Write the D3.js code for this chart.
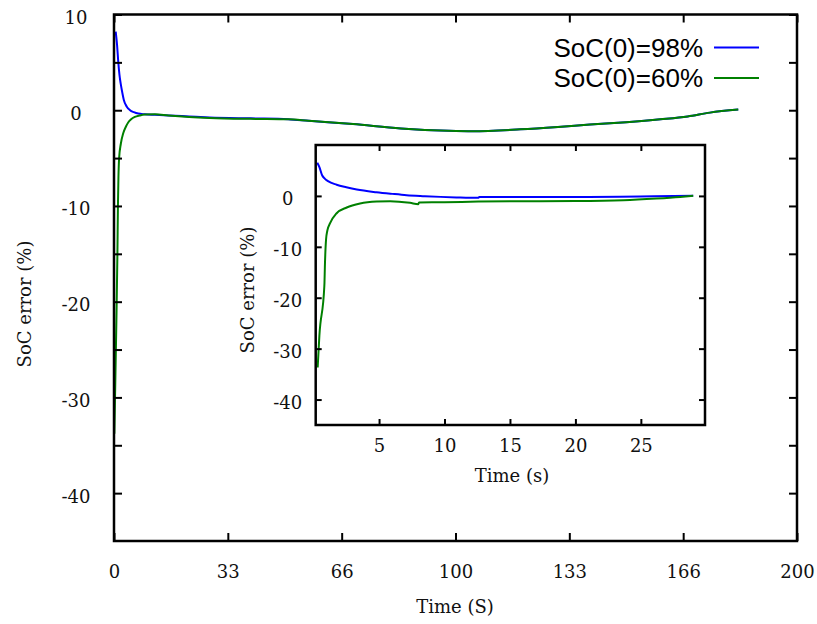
<!DOCTYPE html>
<html>
<head>
<meta charset="utf-8">
<script src="https://cdn.jsdelivr.net/npm/d3@7"></script>
<style>
  body { margin: 0; background: #fff; }
  .tick text { font-family: "DejaVu Serif", serif; font-size: 18px; fill: #111; }
  .axisLabel { font-family: "DejaVu Serif", serif; font-size: 18px; fill: #111; }
  .legend { font-family: "Liberation Sans", Arial, sans-serif; font-size: 26px; fill: #000; }
</style>
</head>
<body>
<script>
// main plot series (time, soc error)
var mainTime98 = [0.5, 0.9, 1.26, 1.6, 1.95, 2.4, 2.9, 3.7, 4.7, 5.8, 7.1, 9, 12, 16, 22, 28, 40, 51,
                  57, 70, 84, 98, 105, 119, 130, 139.4, 150, 160, 168, 174.5, 182.8];
var mainErr98 = [8.2, 6.8, 5.0, 3.7, 2.8, 1.9, 1.05, 0.4, 0.0, -0.2, -0.35, -0.42, -0.48, -0.55, -0.65, -0.75, -0.85, -0.93,
                 -1.1, -1.45, -1.9, -2.15, -2.2, -2.0, -1.75, -1.5, -1.25, -0.95, -0.65, -0.25, 0.07];
var mainTime60 = [0.1, 0.3, 0.7, 1.0, 1.15, 1.3, 1.5, 2.0, 2.7, 3.5, 4.2, 5, 6.1, 7.5, 9, 12, 16, 22, 28, 40, 51,
                  57, 70, 84, 98, 105, 119, 130, 139.4, 150, 160, 168, 174.5, 182.8];
var mainErr60 = [-33.8, -30, -22, -15, -10, -7, -5, -3.5, -2.4, -1.7, -1.25, -0.95, -0.7, -0.55, -0.45, -0.42, -0.55, -0.7, -0.8, -0.9, -0.95,
                 -1.1, -1.45, -1.9, -2.15, -2.2, -2.0, -1.75, -1.5, -1.25, -0.95, -0.65, -0.25, 0.07];

// inset series
var insetTime98 = [0.28, 0.45, 0.66, 0.85, 1.1, 1.76, 2.5, 3.3, 4.8, 6, 7.1, 8.5, 9.7, 11, 12.6, 12.65,
                   15, 18, 21, 23.4, 26, 29.0];
var insetErr98 = [6.5, 5.6, 4.0, 3.4, 2.9, 2.2, 1.7, 1.25, 0.72, 0.4, 0.14, -0.05, -0.19, -0.3, -0.38, -0.19,
                  -0.21, -0.21, -0.2, -0.15, -0.05, 0.05];
var insetTime60 = [0.31, 0.44, 0.82, 0.83, 0.86, 0.95, 1.05, 1.25, 1.76, 2.53, 3.55, 4.82, 5.84, 7.37, 8.0, 8.05,
                   10, 12.59, 15, 20, 23.67, 26.2, 28, 29.0];
var insetErr60 = [-33.7, -27.5, -17.7, -17.1, -14, -8.6, -6.8, -5.4, -3.4, -2.27, -1.49, -1.1, -1.03, -1.36, -1.62, -1.29,
                  -1.25, -1.1, -1.05, -1.0, -0.84, -0.51, -0.2, 0.02];

// ticks
var mainXTicks = [0, 33.33, 66.67, 100, 133.33, 166.67, 200];
var mainXLabels = ["0", "33", "66", "100", "133", "166", "200"];
var mainYTicks = [10, 5, 0, -5, -10, -15, -20, -25, -30, -35, -40];
var mainYLabels = [10, 0, -10, -20, -30, -40];
var insetXTicks = [5, 10, 15, 20, 25];
var insetYTicks = [0, -10, -20, -30, -40];

var legendNames = ["SoC(0)=98%", "SoC(0)=60%"];
var colors = ["#0000ff", "#008000"];

var totalWidth = 817, totalHeight = 624;

var svg = d3.select("body")
            .append("svg")
            .attr("width", totalWidth)
            .attr("height", totalHeight);

function zip(xs, ys) {
  return xs.map(function(x, i) { return [x, ys[i]]; });
}

// draws a framed plot with mirrored inward ticks
function drawPlot(box, xDomain, yDomain, xTicks, xLabels, yTicks, yLabelFn, series, opts) {
  var x = d3.scaleLinear().domain(xDomain).range([box.left, box.right]);
  var y = d3.scaleLinear().domain(yDomain).range([box.bottom, box.top]);
  var g = svg.append("g");

  g.append("rect")
   .attr("x", box.left).attr("y", box.top)
   .attr("width", box.right - box.left).attr("height", box.bottom - box.top)
   .attr("fill", "#fff");

  var clipId = "clip" + Math.round(box.left);
  g.append("clipPath").attr("id", clipId)
   .append("rect")
   .attr("x", box.left).attr("y", box.top)
   .attr("width", box.right - box.left).attr("height", box.bottom - box.top);

  var line = d3.line()
               .x(function(d) { return x(d[0]); })
               .y(function(d) { return y(d[1]); })
               .curve(d3.curveMonotoneX);

  series.forEach(function(s, i) {
    g.append("path")
     .datum(s)
     .attr("clip-path", "url(#" + clipId + ")")
     .attr("fill", "none")
     .attr("stroke", colors[i])
     .attr("stroke-width", 2)
     .attr("d", line);
  });

  var tl = opts.tickLen;
  // bottom axis with labels
  g.append("g")
   .attr("transform", "translate(0," + box.bottom + ")")
   .call(d3.axisBottom(x).tickValues(xTicks).tickSizeInner(-tl).tickSizeOuter(0)
           .tickPadding(opts.xPad).tickFormat(function(d, i) { return xLabels[i]; }))
   .call(function(a) { a.select(".domain").remove(); });
  // top mirrored ticks
  g.append("g")
   .attr("transform", "translate(0," + box.top + ")")
   .call(d3.axisTop(x).tickValues(xTicks).tickSizeInner(-tl).tickSizeOuter(0).tickFormat(""))
   .call(function(a) { a.select(".domain").remove(); });
  // left axis
  var left = g.append("g")
   .attr("transform", "translate(" + box.left + ",0)")
   .call(d3.axisLeft(y).tickValues(yTicks).tickSizeInner(-tl).tickSizeOuter(0)
           .tickPadding(opts.yPad).tickFormat(yLabelFn))
   .call(function(a) { a.select(".domain").remove(); });
  left.selectAll(".tick text")
      .attr("text-anchor", "middle")
      .attr("dy", "0.5em");
  // right mirrored ticks
  g.append("g")
   .attr("transform", "translate(" + box.right + ",0)")
   .call(d3.axisRight(y).tickValues(yTicks).tickSizeInner(-tl).tickSizeOuter(0).tickFormat(""))
   .call(function(a) { a.select(".domain").remove(); });

  g.selectAll(".tick line").attr("stroke", "#000").attr("stroke-width", 2);

  // frame
  g.append("rect")
   .attr("x", box.left).attr("y", box.top)
   .attr("width", box.right - box.left).attr("height", box.bottom - box.top)
   .attr("fill", "none")
   .attr("stroke", "#000")
   .attr("stroke-width", 2.5);

  return g;
}

/* main plot */
var mainBox = {left: 114, right: 797, top: 14.5, bottom: 541};
drawPlot(mainBox, [0, 200], [-45, 10], mainXTicks, mainXLabels, mainYTicks,
         function(d) { return mainYLabels.indexOf(d) >= 0 ? d : ""; },
         [zip(mainTime98, mainErr98), zip(mainTime60, mainErr60)],
         {tickLen: 8, xPad: 24, yPad: 38});

svg.append("text")
   .attr("class", "axisLabel")
   .attr("x", 455).attr("y", 613)
   .attr("text-anchor", "middle")
   .text("Time (S)");

svg.append("text")
   .attr("class", "axisLabel")
   .attr("transform", "translate(31,304) rotate(-90)")
   .attr("text-anchor", "middle")
   .text("SoC error (%)");

// legend
legendNames.forEach(function(name, i) {
  var ly = 47.5 + i * 30.5;
  svg.append("text")
     .attr("class", "legend")
     .attr("x", 703).attr("y", ly + 9)
     .attr("text-anchor", "end")
     .text(name);
  svg.append("line")
     .attr("x1", 714).attr("x2", 759)
     .attr("y1", ly).attr("y2", ly)
     .attr("stroke", colors[i])
     .attr("stroke-width", 2);
});

/* inset plot */
var insetBox = {left: 315.7, right: 705, top: 145, bottom: 425};
drawPlot(insetBox, [0.16, 29.9], [-45, 10], insetXTicks, insetXTicks.map(String), insetYTicks,
         function(d) { return d; },
         [zip(insetTime98, insetErr98), zip(insetTime60, insetErr60)],
         {tickLen: 6, xPad: 14, yPad: 28});

svg.append("text")
   .attr("class", "axisLabel")
   .attr("x", 512).attr("y", 482)
   .attr("text-anchor", "middle")
   .text("Time (s)");

svg.append("text")
   .attr("class", "axisLabel")
   .attr("transform", "translate(254,290) rotate(-90)")
   .attr("text-anchor", "middle")
   .text("SoC error (%)");
</script>
</body>
</html>
